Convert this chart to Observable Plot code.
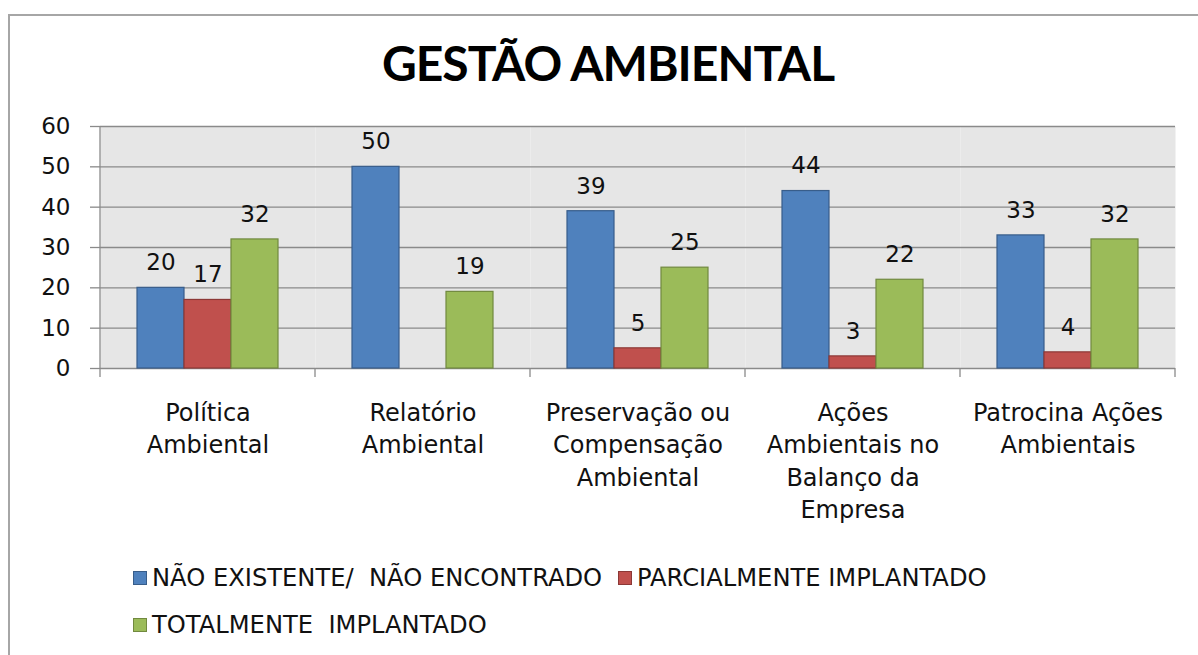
<!DOCTYPE html>
<html>
<head>
<meta charset="utf-8">
<script src="https://cdn.jsdelivr.net/npm/d3@7"></script>
<script src="https://cdn.jsdelivr.net/npm/@observablehq/plot@0.6"></script>
<style>
  html, body { margin: 0; padding: 0; background: #fff; }
  #chart { position: relative; width: 1198px; height: 655px; overflow: hidden; background: #fff; font-family: "DejaVu Sans", sans-serif; color: #111; }
  #border { position: absolute; left: 8px; top: 14px; width: 1300px; height: 800px; border-left: 2px solid #a6a6a6; border-top: 2px solid #a6a6a6; pointer-events: none; }
  #title { height: 74px; padding-top: 26px; padding-left: 18px; line-height: 74px; text-align: center; font-family: Lato, "Open Sans", sans-serif; font-weight: 700; font-size: 48px; letter-spacing: -1px; color: #000; }
  #plot svg { display: block; }
  #legend { position: relative; height: 115px; font-size: 24.2px; }
  .item { position: absolute; display: flex; align-items: center; white-space: pre; height: 28px; }
  .sw { width: 14px; height: 14px; margin-right: 5px; box-sizing: border-box; }
</style>
</head>
<body>
<div id="chart">
  <div id="border"></div>
  <div id="title">GESTÃO AMBIENTAL</div>
  <div id="plot"></div>
  <div id="legend"></div>
</div>
<script>
const categories = [
  "Política Ambiental",
  "Relatório Ambiental",
  "Preservação ou Compensação Ambiental",
  "Ações Ambientais no Balanço da Empresa",
  "Patrocina Ações Ambientais"
];
const categoryLabels = [
  "Política\nAmbiental",
  "Relatório\nAmbiental",
  "Preservação ou\nCompensação\nAmbiental",
  "Ações\nAmbientais no\nBalanço da\nEmpresa",
  "Patrocina Ações\nAmbientais"
];
const series = ["NÃO EXISTENTE/  NÃO ENCONTRADO", "PARCIALMENTE IMPLANTADO", "TOTALMENTE  IMPLANTADO"];
const naoExistente = [20, 50, 39, 44, 33];
const parcialmente = [17, null, 5, 3, 4];
const totalmente = [32, 19, 25, 22, 32];
const yTicks = [0, 10, 20, 30, 40, 50, 60];

const fills = ["#4f81bd", "#c0504d", "#9bbb59"];
const strokes = ["#385d8a", "#8c3836", "#71893f"];

const valuesBySeries = [naoExistente, parcialmente, totalmente];
const data = [];
series.forEach((s, si) => {
  categories.forEach((c, ci) => {
    const v = valuesBySeries[si][ci];
    if (v != null) data.push({cat: c, series: s, si, value: v});
  });
});

const labelOf = new Map(categories.map((c, i) => [c, categoryLabels[i]]));

const plot = Plot.plot({
  width: 1198,
  height: 440,
  marginTop: 26,
  marginBottom: 172,
  marginLeft: 99,
  marginRight: 23,
  style: {fontFamily: "DejaVu Sans, sans-serif", fontSize: "22px", color: "#111", background: "transparent"},
  fx: {domain: categories, paddingInner: 0, paddingOuter: 0, label: null},
  x: {domain: series, paddingInner: 0, paddingOuter: 0.74, axis: null},
  y: {domain: [0, 60], ticks: yTicks, label: null, axis: null},
  marks: [
    Plot.frame({fill: "#e6e6e6", stroke: null}),
    Plot.ruleY(yTicks, {stroke: "#8a8a8a", strokeWidth: 1.3}),
    ...series.map((s, si) => Plot.barY(data.filter(d => d.si === si), {
      fx: "cat", x: "series", y: "value",
      fill: fills[si], stroke: strokes[si], strokeWidth: 1.2, inset: 0
    })),
    Plot.text(data, {fx: "cat", x: "series", y: "value", text: d => String(d.value), dy: -25, fill: "#111", fontSize: 23}),
    Plot.axisY(yTicks, {anchor: "left", tickSize: 10, tickPadding: 20, stroke: "#8a8a8a", strokeWidth: 1.3, fill: "#111", fontSize: 23, label: null}),
    Plot.axisFx({anchor: "bottom", tickSize: 0, tickPadding: 30, tickFormat: c => labelOf.get(c), lineHeight: 1.34, fontSize: 24, fill: "#111", label: null})
  ]
});

document.getElementById("plot").appendChild(plot);

// axis line and category separator ticks, positioned from the library's scales
const fx = plot.scale("fx");
const y = plot.scale("y");
const svg = d3.select(plot);
const bw = fx.bandwidth;
const edges = categories.map(c => fx.apply(c)).concat([fx.apply(categories[categories.length - 1]) + bw]);
const y0 = y.apply(0), y60 = y.apply(60);
const g = svg.append("g").attr("stroke", "#8a8a8a").attr("stroke-width", 1.3);
g.append("line").attr("x1", edges[0]).attr("x2", edges[0]).attr("y1", y60).attr("y2", y0 + 9);
edges.slice(1).forEach(e => {
  g.append("line").attr("x1", e).attr("x2", e).attr("y1", y0).attr("y2", y0 + 9);
});

// legend
const legend = document.getElementById("legend");
const pos = [[133, 24], [618, 24], [133, 71]];
series.forEach((s, i) => {
  const it = document.createElement("div");
  it.className = "item";
  it.style.left = pos[i][0] + "px";
  it.style.top = pos[i][1] + "px";
  const sw = document.createElement("span");
  sw.className = "sw";
  sw.style.background = fills[i];
  sw.style.border = "1px solid " + strokes[i];
  const tx = document.createElement("span");
  tx.textContent = s;
  it.appendChild(sw);
  it.appendChild(tx);
  legend.appendChild(it);
});
</script>
</body>
</html>
